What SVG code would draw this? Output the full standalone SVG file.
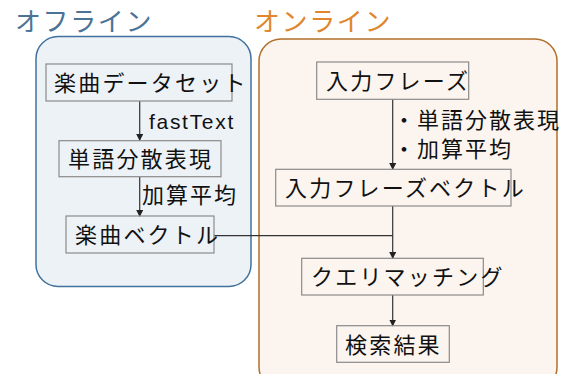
<svg xmlns="http://www.w3.org/2000/svg" width="568" height="374" viewBox="0 0 568 374">
<defs>
<marker id="arr" markerWidth="8" markerHeight="8" refX="6" refY="3.5" orient="auto" markerUnits="userSpaceOnUse">
<path d="M0,0 L7,3.5 L0,7 Z" fill="#222"/>
</marker>
<style>
.t{font-family:"Noto Sans CJK JP","Noto Sans",sans-serif;font-size:22px;letter-spacing:2.2px;fill:#111}
.l{font-family:"Liberation Sans","Noto Sans CJK JP",sans-serif;font-size:21px;letter-spacing:1.7px;fill:#111}
.lj{font-family:"Noto Sans CJK JP",sans-serif;font-size:22px;letter-spacing:2px;fill:#111}
.n{fill:none;stroke:#8a8a8a;stroke-width:1.2}
.c{fill:none;stroke:#333;stroke-width:1.2}
.h{font-family:"Noto Sans CJK JP",sans-serif;font-size:26px;letter-spacing:1.6px}
</style>
</defs>
<g id="offline">
<rect x="36" y="36.5" width="215" height="250" rx="22" fill="#edf2f7" stroke="#41719c" stroke-width="1.5"/>
<text class="h" x="15" y="31" fill="#4a7396">オフライン</text>
</g>
<g id="online">
<rect x="259" y="39" width="298" height="350" rx="22" fill="#fcf5ef" stroke="#b06f2a" stroke-width="1.5"/>
<text class="h" x="254" y="31" fill="#e0862c">オンライン</text>
</g>
<g id="connectors">
<line class="c" x1="139.7" y1="101" x2="139.7" y2="140" marker-end="url(#arr)"/>
<line class="c" x1="139.7" y1="177" x2="139.7" y2="216" marker-end="url(#arr)"/>
<line class="c" x1="392.7" y1="99.5" x2="392.7" y2="169" marker-end="url(#arr)"/>
<polyline class="c" points="214,235.7 392.7,235.7"/>
<line class="c" x1="392.7" y1="206" x2="392.7" y2="258" marker-end="url(#arr)"/>
<line class="c" x1="392.7" y1="295" x2="392.7" y2="325.5" marker-end="url(#arr)"/>
</g>
<g id="n1">
<rect class="n" x="46" y="64" width="186" height="37"/>
<text class="t" x="54" y="90.5">楽曲データセット</text>
</g>
<g id="lbl1">
<text class="l" x="149" y="128.5">fastText</text>
</g>
<g id="n2">
<rect class="n" x="59" y="140.7" width="162" height="36"/>
<text class="t" x="68" y="167">単語分散表現</text>
</g>
<g id="lbl2">
<text class="lj" x="142" y="203">加算平均</text>
</g>
<g id="n3">
<rect class="n" x="66" y="216" width="148" height="37"/>
<text class="t" x="75" y="243">楽曲ベクトル</text>
</g>
<g id="n4">
<rect class="n" x="316.7" y="62" width="152" height="37.3"/>
<text class="t" x="326" y="89">入力フレーズ</text>
</g>
<g id="lbl3">
<text class="lj" x="393" y="128">・単語分散表現</text>
<text class="lj" x="393" y="157">・加算平均</text>
</g>
<g id="n5">
<rect class="n" x="275.7" y="169.3" width="235.3" height="36.7"/>
<text class="t" x="285" y="196">入力フレーズベクトル</text>
</g>
<g id="n6">
<rect class="n" x="301.7" y="258.3" width="181.6" height="36.7"/>
<text class="t" x="311" y="285">クエリマッチング</text>
</g>
<g id="n7">
<rect class="n" x="336.7" y="325.7" width="112.6" height="36.6"/>
<text class="t" x="345" y="352.5">検索結果</text>
</g>
</svg>
